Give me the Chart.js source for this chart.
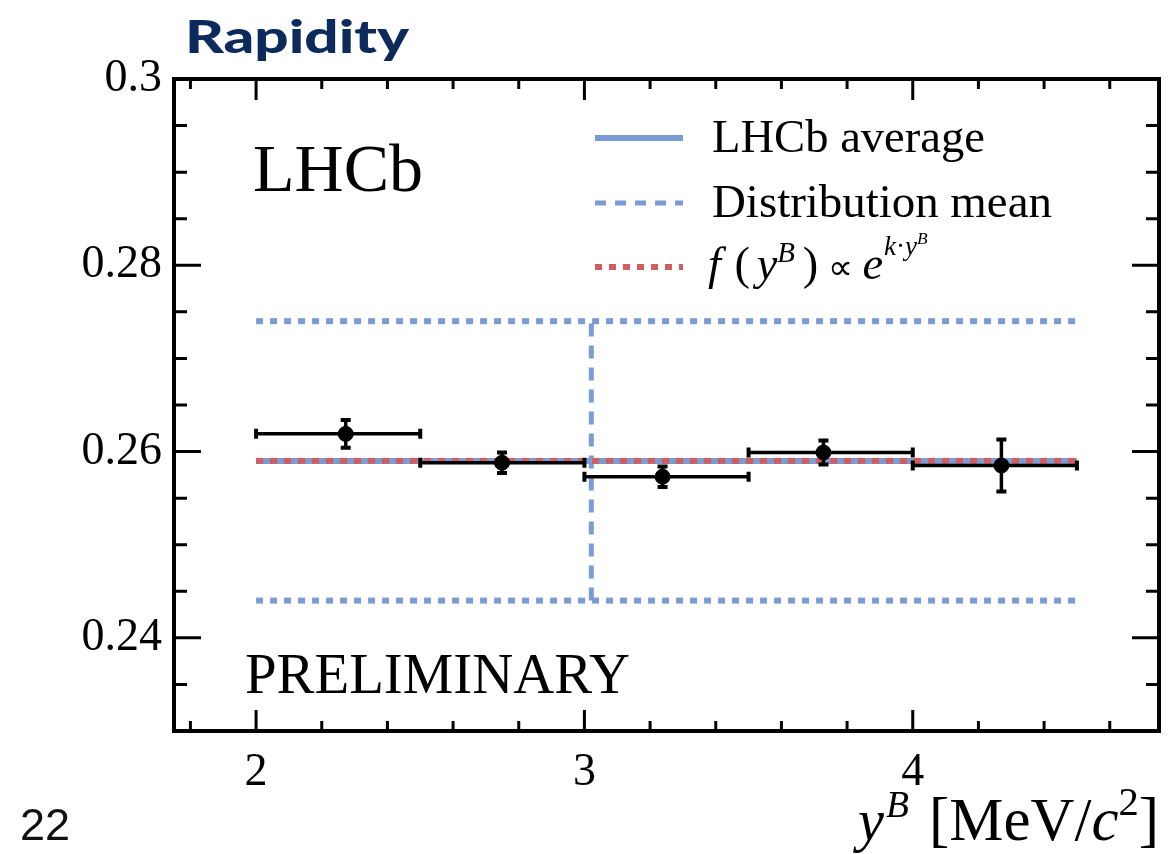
<!DOCTYPE html>
<html>
<head>
<meta charset="utf-8">
<title>Rapidity</title>
<script src="https://cdn.jsdelivr.net/npm/chart.js@4/dist/chart.umd.min.js"></script>
<style>
  html, body { margin: 0; padding: 0; background: #fff; }
  #wrap { position: relative; width: 1168px; height: 854px; }
</style>
</head>
<body>
<div id="wrap"><canvas id="chart" width="1168" height="854"></canvas></div>
<script>
// y^B bins and the measured values
const binLow = [2.0, 2.5, 3.0, 3.5, 4.0];
const binHigh = [2.5, 3.0, 3.5, 4.0, 4.5];
const binCentre = [2.273, 2.749, 3.238, 3.728, 4.270];
const ratio = [0.2619, 0.2588, 0.2573, 0.2599, 0.2585];
const ratioErr = [0.0015, 0.0011, 0.0011, 0.0013, 0.0028];

// reference lines
const lhcbAverage = 0.259;
const fitValue = 0.259;
const distMeanX = 3.021;
const bandLow = 0.244;
const bandHigh = 0.274;
const lineFrom = 2.0;
const lineTo = 4.5;

// axes
const xTicks = [2, 3, 4];
const xTickLabels = ['2', '3', '4'];
const xMinor = [1.8, 2.2, 2.4, 2.6, 2.8, 3.2, 3.4, 3.6, 3.8, 4.2, 4.4, 4.6];
const yTicks = [0.24, 0.26, 0.28, 0.30];
const yTickLabels = ['0.24', '0.26', '0.28', '0.3'];
const yMinor = [0.235, 0.245, 0.25, 0.255, 0.265, 0.27, 0.275, 0.285, 0.29, 0.295];

const BLUE = '#7b9bd4';
const RED = '#d05e5e';
const SERIF = '"Liberation Serif", "Times New Roman", serif';

function fontOf(p, k) {
    return (p.italic ? 'italic ' : '') + (p.size * k).toFixed(1) + 'px ' + SERIF;
}

// draws a run of text pieces (for super-scripts); optional target width
function drawRich(ctx, parts, x, y, align, width) {
    const measure = k => {
        let w = 0;
        parts.forEach(p => {
            ctx.font = fontOf(p, k);
            p.w = ctx.measureText(p.t).width + (p.gap || 0) * k;
            w += p.w;
        });
        return w;
    };
    let k = 1;
    let w = measure(1);
    if (width) { k = width / w; w = measure(k); }
    let cx = align === 'right' ? x - w : x;
    ctx.textAlign = 'left';
    parts.forEach(p => {
        ctx.font = fontOf(p, k);
        ctx.fillText(p.t, cx, y - (p.dy || 0) * k);
        cx += p.w;
    });
}

// text sized to the width seen in the picture
function fitText(ctx, text, x, y, family, weight, guess, width) {
    ctx.font = weight + ' ' + guess + 'px ' + family;
    const size = guess * width / ctx.measureText(text).width;
    ctx.font = weight + ' ' + size.toFixed(1) + 'px ' + family;
    ctx.fillText(text, x, y);
}

const errorBars = {
    id: 'errorBars',
    beforeDatasetDraw(chart, args) {
        if (args.index !== 0) return;
        const ctx = chart.ctx, xs = chart.scales.x, ys = chart.scales.y;
        ctx.save();
        ctx.strokeStyle = '#000';
        binCentre.forEach((xc, i) => {
            const y = ys.getPixelForValue(ratio[i]);
            const x0 = xs.getPixelForValue(binLow[i]);
            const x1 = xs.getPixelForValue(binHigh[i]);
            const xm = xs.getPixelForValue(xc);
            const yt = ys.getPixelForValue(ratio[i] + ratioErr[i]);
            const yb = ys.getPixelForValue(ratio[i] - ratioErr[i]);
            ctx.lineWidth = 3.5;
            ctx.beginPath();
            ctx.moveTo(x0, y); ctx.lineTo(x1, y);
            ctx.moveTo(xm, yt); ctx.lineTo(xm, yb);
            ctx.stroke();
            ctx.lineWidth = 4;
            ctx.beginPath();
            ctx.moveTo(x0, y - 5); ctx.lineTo(x0, y + 5);
            ctx.moveTo(x1, y - 5); ctx.lineTo(x1, y + 5);
            ctx.moveTo(xm - 5, yt); ctx.lineTo(xm + 5, yt);
            ctx.moveTo(xm - 5, yb); ctx.lineTo(xm + 5, yb);
            ctx.stroke();
        });
        ctx.restore();
    }
};

const frame = {
    id: 'frame',
    afterDraw(chart) {
        const ctx = chart.ctx, a = chart.chartArea;
        const xs = chart.scales.x, ys = chart.scales.y;
        ctx.save();
        ctx.strokeStyle = '#000';
        ctx.lineWidth = 3;
        ctx.beginPath();
        const xTick = (v, len) => {
            const px = xs.getPixelForValue(v);
            ctx.moveTo(px, a.bottom); ctx.lineTo(px, a.bottom - len);
            ctx.moveTo(px, a.top); ctx.lineTo(px, a.top + len);
        };
        const yTick = (v, len) => {
            const py = ys.getPixelForValue(v);
            ctx.moveTo(a.left, py); ctx.lineTo(a.left + len, py);
            ctx.moveTo(a.right, py); ctx.lineTo(a.right - len, py);
        };
        xTicks.forEach(v => xTick(v, 21));
        xMinor.forEach(v => xTick(v, 10));
        yTicks.forEach(v => yTick(v, 27));
        yMinor.forEach(v => yTick(v, 13));
        ctx.stroke();
        ctx.lineWidth = 4;
        ctx.strokeRect(a.left, a.top, a.right - a.left, a.bottom - a.top);

        // texts
        ctx.fillStyle = '#000';
        ctx.textBaseline = 'alphabetic';
        ctx.textAlign = 'left';
        fitText(ctx, 'LHCb', 253, 191, SERIF, 'normal', 68, 170);
        fitText(ctx, 'PRELIMINARY', 245, 693, SERIF, 'normal', 52, 385);

        // legend
        const samples = [
            { y: 138, color: BLUE, dash: [], width: 6 },
            { y: 203, color: BLUE, dash: [11, 9], width: 5 },
            { y: 267, color: RED, dash: [7, 7], width: 6 }
        ];
        samples.forEach(s => {
            ctx.beginPath();
            ctx.strokeStyle = s.color;
            ctx.lineWidth = s.width;
            ctx.setLineDash(s.dash);
            ctx.moveTo(595, s.y); ctx.lineTo(683, s.y);
            ctx.stroke();
        });
        ctx.setLineDash([]);
        fitText(ctx, 'LHCb average', 712, 152, SERIF, 'normal', 46, 273);
        fitText(ctx, 'Distribution mean', 712, 217, SERIF, 'normal', 46, 340);
        drawRich(ctx, [
            { t: 'f', italic: true, size: 48, gap: 14 },
            { t: '(', size: 48, gap: 7 },
            { t: 'y', italic: true, size: 48 },
            { t: 'B', italic: true, size: 30, dy: 18, gap: 8 },
            { t: ')', size: 48, gap: 10 },
            { t: '\u221d', size: 36, gap: 10 },
            { t: 'e', italic: true, size: 48, gap: 1 },
            { t: 'k', italic: true, size: 28, dy: 25 },
            { t: '\u00b7', size: 28, dy: 25 },
            { t: 'y', italic: true, size: 28, dy: 25 },
            { t: 'B', italic: true, size: 18, dy: 36 }
        ], 708, 279, 'left', 220);

        // axis title: y^B then [MeV/c^2]
        drawRich(ctx, [
            { t: 'y', italic: true, size: 56, gap: 2 },
            { t: 'B', italic: true, size: 36, dy: 22 }
        ], 858, 840, 'left', 51);
        drawRich(ctx, [
            { t: '[MeV/', size: 54 },
            { t: 'c', italic: true, size: 54 },
            { t: '2', size: 36, dy: 22 },
            { t: ']', size: 54 }
        ], 1159, 840, 'right', 230);

        // slide decorations
        ctx.fillStyle = '#0c2a5b';
        ctx.font = '900 46px Lato';
        const tw = ctx.measureText('Rapidity').width;
        ctx.save();
        ctx.translate(185, 53);
        ctx.scale(224 / tw, 1);
        ctx.fillText('Rapidity', 0, 0);
        ctx.restore();
        ctx.fillStyle = '#111';
        fitText(ctx, '22', 20, 840, '"Liberation Sans", Arial, sans-serif', 'normal', 44, 50);
        ctx.restore();
    }
};

const flat = (x0, x1, y) => [{ x: x0, y: y }, { x: x1, y: y }];

new Chart(document.getElementById('chart'), {
    type: 'scatter',
    data: {
        datasets: [
            {
                label: 'Data',
                data: binCentre.map((x, i) => ({ x: x, y: ratio[i] })),
                pointRadius: 7.5,
                pointBackgroundColor: '#000',
                pointBorderColor: '#000',
                showLine: false,
                order: 0
            },
            {
                label: 'Fit',
                data: flat(lineFrom, lineTo, fitValue),
                showLine: true, borderColor: RED, borderWidth: 6, borderDash: [7, 7],
                pointRadius: 0, order: 1
            },
            {
                label: 'LHCb average',
                data: flat(lineFrom, lineTo, lhcbAverage),
                showLine: true, borderColor: BLUE, borderWidth: 6,
                pointRadius: 0, order: 2
            },
            {
                label: 'Distribution mean',
                data: [{ x: distMeanX, y: bandLow }, { x: distMeanX, y: bandHigh }],
                showLine: true, borderColor: BLUE, borderWidth: 5, borderDash: [13, 9],
                pointRadius: 0, order: 3
            },
            {
                label: 'Upper',
                data: flat(lineFrom, lineTo, bandHigh),
                showLine: true, borderColor: BLUE, borderWidth: 6, borderDash: [7, 7],
                pointRadius: 0, order: 4
            },
            {
                label: 'Lower',
                data: flat(lineFrom, lineTo, bandLow),
                showLine: true, borderColor: BLUE, borderWidth: 6, borderDash: [7, 7],
                pointRadius: 0, order: 5
            }
        ]
    },
    options: {
        responsive: false,
        animation: false,
        layout: { padding: { top: 79, right: 9, left: 0, bottom: 0 } },
        plugins: { legend: { display: false }, tooltip: { enabled: false } },
        scales: {
            x: {
                type: 'linear', min: 1.75, max: 4.75,
                grid: { display: false, drawTicks: false }, border: { display: false },
                ticks: {
                    color: '#000', font: { family: SERIF, size: 46 }, padding: 14,
                    autoSkip: false, maxRotation: 0,
                    callback: v => xTickLabels[xTicks.indexOf(v)]
                },
                afterBuildTicks: s => { s.ticks = xTicks.map(v => ({ value: v })); },
                afterFit: s => { s.height = 123; }
            },
            y: {
                type: 'linear', min: 0.23, max: 0.30,
                grid: { display: false, drawTicks: false }, border: { display: false },
                ticks: {
                    color: '#000', font: { family: SERIF, size: 46 }, padding: 12,
                    autoSkip: false,
                    callback: v => yTickLabels[yTicks.indexOf(v)]
                },
                afterBuildTicks: s => { s.ticks = yTicks.map(v => ({ value: v })); },
                afterFit: s => { s.width = 174; }
            }
        }
    },
    plugins: [errorBars, frame]
});
</script>
</body>
</html>
